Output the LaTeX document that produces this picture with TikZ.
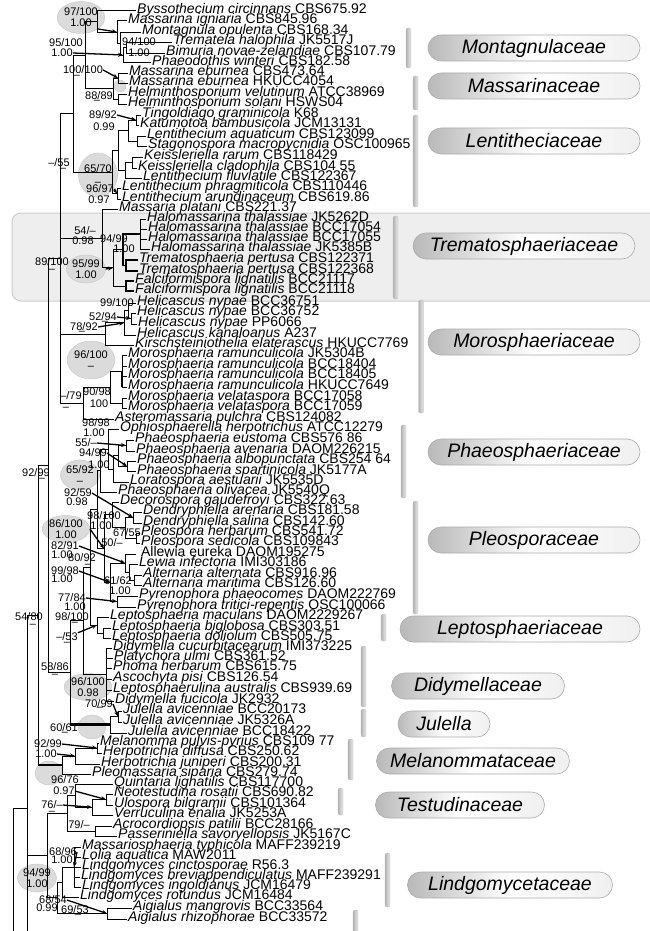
\documentclass[tikz,border=0pt]{standalone}
\usepackage{fontspec}
\setmainfont{Liberation Sans}
\usetikzlibrary{calc,arrows.meta,shapes.geometric}
\newcommand\tx[5]{\node[tx] (#1) at (#2,#3) {\textit{#4} #5};\coordinate (#1e) at ([xshift=-1.5pt]#1.mid west);}
\newcommand\nd[4]{\path let \p1=($(#3)!.5!(#4)$) in coordinate (#1) at (#2pt,\y1);}
\newcommand\clade[2]{\foreach \ch in {#2}{\draw[br] (#1) |- (\ch);}}
\newcommand\tclade[2]{\foreach \ch in {#2}{\draw[tkb] (#1) |- (\ch);}}
\newcommand\lb[4]{\node[sl] (#1) at (#2,#3) {#4};}
\tikzset{
 tx/.style={anchor=mid west,inner sep=0pt,font=\fontsize{14}{14}\selectfont},
 sl/.style={inner sep=0pt,font=\fontsize{11}{11}\selectfont},
 br/.style={line width=0.8pt},
 tkb/.style={line width=1.8pt},
 tk/.style={line width=2.6pt},
 arr/.style={line width=1.3pt,-{Stealth[length=5pt,width=4pt]}},
 bub/.style={ellipse,inner sep=0pt,fill=gray!28,draw=gray!45,line width=0.4pt,align=center,font=\fontsize{11}{11}\selectfont},
 fam/.style={rounded corners=13pt,draw=gray!65,line width=0.6pt,left color=gray!55,right color=gray!12,middle color=white,minimum height=26pt,inner sep=0pt,font=\fontsize{19.5}{19.5}\selectfont\itshape},
 bar/.style={rounded corners=2pt,left color=gray!60,right color=gray!15,draw=gray!50,line width=0.3pt},
}
\begin{document}
\begin{tikzpicture}[x=1pt,y=-1pt]
\fill[white] (0,0) rectangle (649,931);
\useasboundingbox (0,0) rectangle (649,931);
% Trematosphaeriaceae panel
\path[fill=gray!13,draw=gray!40,line width=1pt,rounded corners=9pt] (12,213) rectangle (660,301);
% bars
\path[bar] (406,28) rectangle (411,68);
\path[bar] (413,76) rectangle (418,110);
\path[bar] (413,115) rectangle (418,207);
\path[bar] (393,216) rectangle (398,299);
\path[bar] (418.5,300) rectangle (423.5,413);
\path[bar] (401,425) rectangle (406,498);
\path[bar] (413,501) rectangle (418,614);
\path[bar] (381,614) rectangle (386,641);
\path[bar] (361,646) rectangle (366,707);
\path[bar] (361,709) rectangle (366,737);
\path[bar] (348,739) rectangle (353,780);
\path[bar] (338,788) rectangle (343,815);
\path[bar] (385,853) rectangle (390,907);
\path[bar] (353,910) rectangle (358,935);
% family pills
\node[fam,minimum width=212pt] (f1) at (534,48) {Montagnulaceae};
\node[fam,minimum width=212pt] (f2) at (534,86) {Massarinaceae};
\node[fam,minimum width=212pt] (f3) at (534,141) {Lentitheciaceae};
\node[fam,minimum width=222pt] (f4) at (524,246) {Trematosphaeriaceae};
\node[fam,minimum width=212pt] (f5) at (534,342) {Morosphaeriaceae};
\node[fam,minimum width=212pt] (f6) at (534,452) {Phaeosphaeriaceae};
\node[fam,minimum width=212pt] (f7) at (534,540) {Pleosporaceae};
\node[fam,minimum width=240pt] (f8) at (520,629) {Leptosphaeriaceae};
\node[fam,minimum width=173pt] (f9) at (478,686) {Didymellaceae};
\node[fam,minimum width=92pt] (f10) at (444,724) {Julella};
\node[fam,minimum width=193pt] (f11) at (473,761) {Melanommataceae};
\node[fam,minimum width=169pt] (f12) at (460,805) {Testudinaceae};
\node[fam,minimum width=205pt] (f13) at (510,885) {Lindgomycetaceae};
% bubbles
\node[bub,minimum width=38pt,minimum height=32pt] (bub1) at (81,17.5) {97/100\\1.00};
\node[bub,minimum width=12pt,minimum height=12pt] (bub11) at (120,86) {};
\node[bub,minimum width=34pt,minimum height=44pt] (bub2) at (98,175) {65/70\\[2pt]\textendash};
\node[bub,minimum width=36pt,minimum height=28pt] (bub3) at (86,269) {95/99\\1.00};
\node[bub,minimum width=38pt,minimum height=38pt] (bub4) at (91,360) {96/100\\\textendash};
\node[bub,minimum width=34pt,minimum height=30pt] (bub5) at (80,475) {65/92\\\textendash};
\node[bub,minimum width=34pt,minimum height=26pt] (bub6) at (66,529) {86/100\\1.00};
\node[bub,minimum width=36pt,minimum height=26pt] (bub7) at (88,687) {96/100\\0.98};
\node[bub,minimum width=28pt,minimum height=24pt] (bub9) at (92,727) {};
\node[bub,minimum width=28pt,minimum height=24pt] (bub8) at (49,773) {};
\node[bub,minimum width=36pt,minimum height=28pt] (bub10) at (37,878) {94/99\\1.00};
% taxa
\tx{t1}{137}{10.7}{Byssothecium circinnans}{CBS675.92}
\tx{t2}{128}{20.7}{Massarina igniaria}{CBS845.96}
\tx{t3}{142}{32}{Montagnula opulenta}{CBS168.34}
\tx{t4}{173}{42}{Tremateia halophila}{JK5517J}
\tx{t5}{166}{53}{Bimuria novae-zelandiae}{CBS107.79}
\tx{t6}{152}{62.5}{Phaeodothis winteri}{CBS182.58}
\tx{t7}{129}{73}{Massarina eburnea}{CBS473.64}
\tx{t8}{129}{83}{Massarina eburnea}{HKUCC4054}
\tx{t9}{128}{94}{Helminthosporium velutinum}{ATCC38969}
\tx{t10}{128}{104}{Helminthosporium solani}{HSWS04}
\tx{t11}{142}{115}{Tingoldiago graminicola}{K68}
\tx{t12}{140}{125}{Katumotoa bambusicola}{JCM13131}
\tx{t13}{147}{136}{Lentithecium aquaticum}{CBS123099}
\tx{t14}{148}{146}{Stagonospora macropycnidia}{OSC100965}
\tx{t15}{144}{157}{Keissleriella rarum}{CBS118429}
\tx{t16}{138}{168}{Keissleriella cladophila}{CBS104 55}
\tx{t17}{143}{178}{Lentithecium fluviatile}{CBS122367}
\tx{t18}{122}{188}{Lentithecium phragmiticola}{CBS110446}
\tx{t19}{122}{199}{Lentithecium arundinaceum}{CBS619.86}
\tx{t20}{119}{209}{Massaria platani}{CBS221.37}
\tx{t21}{147}{219}{Halomassarina thalassiae}{JK5262D}
\tx{t22}{148}{229}{Halomassarina thalassiae}{BCC17054}
\tx{t23}{148}{239}{Halomassarina thalassiae}{BCC17055}
\tx{t24}{151}{249}{Halomassarina thalassiae}{JK5385B}
\tx{t25}{139}{260}{Trematosphaeria pertusa}{CBS122371}
\tx{t26}{139}{271}{Trematosphaeria pertusa}{CBS122368}
\tx{t27}{135}{281}{Falciformispora lignatilis}{BCC21117}
\tx{t28}{135}{291}{Falciformispora lignatilis}{BCC21118}
\tx{t29}{137}{303}{Helicascus nypae}{BCC36751}
\tx{t30}{137}{313}{Helicascus nypae}{BCC36752}
\tx{t31}{138}{324}{Helicascus nypae}{PP6066}
\tx{t32}{137}{335}{Helicascus kanaloanus}{A237}
\tx{t33}{135}{345}{Kirschsteiniothelia elaterascus}{HKUCC7769}
\tx{t34}{128}{355}{Morosphaeria ramunculicola}{JK5304B}
\tx{t35}{128}{366}{Morosphaeria ramunculicola}{BCC18404}
\tx{t36}{128}{376}{Morosphaeria ramunculicola}{BCC18405}
\tx{t37}{128}{387}{Morosphaeria ramunculicola}{HKUCC7649}
\tx{t38}{128}{398}{Morosphaeria velataspora}{BCC17058}
\tx{t39}{128}{408}{Morosphaeria velataspora}{BCC17059}
\tx{t40}{115}{419}{Asteromassaria pulchra}{CBS124082}
\tx{t41}{120}{429}{Ophiosphaerella herpotrichus}{ATCC12279}
\tx{t42}{135}{440}{Phaeosphaeria eustoma}{CBS576 86}
\tx{t43}{136}{451}{Phaeosphaeria avenaria}{DAOM226215}
\tx{t44}{137}{461}{Phaeosphaeria albopunctata}{CBS254 64}
\tx{t45}{137}{471.5}{Phaeosphaeria spartinicola}{JK5177A}
\tx{t46}{130}{482}{Loratospora aestuarii}{JK5535D}
\tx{t47}{118}{492}{Phaeosphaeria olivacea}{JK5540Q}
\tx{t48}{120}{502}{Decorospora gaudefroyi}{CBS322.63}
\tx{t49}{143}{512}{Dendryphiella arenaria}{CBS181.58}
\tx{t50}{143}{523}{Dendryphiella salina}{CBS142.60}
\tx{t51}{141}{533}{Pleospora herbarum}{CBS541.72}
\tx{t52}{141}{543}{Pleospora sedicola}{CBS109843}
\tx{t53}{137}{554}{}{Allewia eureka DAOM195275}
\tx{t54}{139}{564}{Lewia infectoria}{IMI303186}
\tx{t55}{143}{575}{Alternaria alternata}{CBS916.96}
\tx{t56}{143}{585}{Alternaria maritima}{CBS126.60}
\tx{t57}{139}{596}{Pyrenophora phaeocomes}{DAOM222769}
\tx{t58}{137}{607}{Pyrenophora tritici-repentis}{OSC100066}
\tx{t59}{110}{617}{Leptosphaeria maculans}{DAOM2229267}
\tx{t60}{112}{628}{Leptosphaeria biglobosa}{CBS303.51}
\tx{t61}{112}{638}{Leptosphaeria doliolum}{CBS505.75}
\tx{t62}{113}{648}{Didymella cucurbitacearum}{IMI373225}
\tx{t63}{114}{658}{Platychora ulmi}{CBS361.52}
\tx{t64}{113}{668}{Phoma herbarum}{CBS615.75}
\tx{t65}{113}{679}{Ascochyta pisi}{CBS126.54}
\tx{t66}{113}{690}{Leptosphaerulina australis}{CBS939.69}
\tx{t67}{115}{701}{Didymella fucicola}{JK2932}
\tx{t68}{123}{711}{Julella avicenniae}{BCC20173}
\tx{t69}{123}{722}{Julella avicenniae}{JK5326A}
\tx{t70}{128}{733}{Julella avicenniae}{BCC18422}
\tx{t71}{100}{743}{Melanomma pulvis-pyrius}{CBS109 77}
\tx{t72}{103}{753}{Herpotrichia diffusa}{CBS250.62}
\tx{t73}{101}{764}{Herpotrichia juniperi}{CBS200.31}
\tx{t74}{92}{774}{Pleomassaria siparia}{CBS279.74}
\tx{t75}{114}{784}{Quintaria lignatilis}{CBS117700}
\tx{t76}{114}{794}{Neotestudina rosatii}{CBS690.82}
\tx{t77}{114}{805}{Ulospora bilgramii}{CBS101364}
\tx{t78}{114}{815}{Verruculina enalia}{JK5253A}
\tx{t79}{113}{826}{Acrocordiopsis patilii}{BCC28166}
\tx{t80}{118}{836}{Passeriniella savoryellopsis}{JK5167C}
\tx{t81}{82}{847}{Massariosphaeria typhicola}{MAFF239219}
\tx{t82}{82}{857}{Lolia aquatica}{MAW2011}
\tx{t83}{82}{867}{Lindgomyces cinctosporae}{R56.3}
\tx{t84}{81}{877}{Lindgomyces breviappendiculatus}{MAFF239291}
\tx{t85}{82}{887}{Lindgomyces ingoldianus}{JCM16479}
\tx{t86}{80}{897}{Lindgomyces rotundus}{JCM16484}
\tx{t87}{133}{908}{Aigialus mangrovis}{BCC33564}
\tx{t88}{128}{919}{Aigialus rhizophorae}{BCC33572}
% internal nodes
\nd{m1}{126}{t4e}{t5e}
\nd{m2}{123}{m1}{t6e}
\nd{m3}{120}{t3e}{m2}
\nd{m4}{117}{t2e}{m3}
\nd{by}{97}{t1e}{m4}
\nd{ma1}{118}{t7e}{t8e}
\nd{ma2}{118}{t9e}{t10e}
\nd{ma3}{113}{ma1}{ma2}
\nd{b1}{85}{by}{ma3}
\nd{l1}{136}{t11e}{t12e}
\nd{l2}{137}{t13e}{t14e}
\nd{l3}{128}{l1}{l2}
\nd{l4}{132}{t15e}{t16e}
\nd{l5}{125}{l4}{t17e}
\nd{l7}{118}{l3}{l5}
\nd{l6}{117}{t18e}{t19e}
\nd{l8}{112}{l7}{l6}
\nd{b2}{73}{b1}{l8}
\nd{h1}{140}{t21e}{t24e}
\nd{tp}{126}{t25e}{t26e}
\nd{h2}{123}{h1}{tp}
\nd{fa}{126}{t27e}{t28e}
\nd{h3}{113}{h2}{fa}
\nd{tn}{102}{t20e}{h3}
\nd{he1}{131}{t30e}{t31e}
\nd{he2}{128}{t29e}{he1}
\nd{he3}{124}{he2}{t32e}
\nd{he4}{105}{he3}{t33e}
\nd{mo1}{122}{t34e}{t37e}
\nd{mo2}{122}{t38e}{t39e}
\nd{mo3}{110}{mo1}{mo2}
\nd{n83}{83}{mo3}{t40e}
\nd{n60}{60}{b2}{n83}
\nd{ph1}{126}{t42e}{t43e}
\nd{ph2}{127}{t44e}{t45e}
\nd{ph3}{118}{ph1}{ph2}
\nd{ph4}{113}{ph3}{t46e}
\nd{ph5}{108}{t41e}{ph4}
\nd{ph6}{100}{ph5}{t47e}
\nd{pl1}{133}{t49e}{t50e}
\nd{pl2}{136}{t51e}{t52e}
\nd{pl3}{125}{pl1}{pl2}
\nd{pl4}{112}{t48e}{pl3}
\nd{al}{134}{t55e}{t56e}
\nd{le}{129}{t54e}{al}
\nd{aw}{125}{t53e}{le}
\nd{py}{117}{t57e}{t58e}
\nd{pl7}{110}{aw}{py}
\nd{pl8}{104}{pl4}{pl7}
\nd{pa}{97}{ph6}{pl8}
\nd{lp1}{103}{t60e}{t61e}
\nd{lp2}{97}{t59e}{lp1}
\nd{fF}{90}{pa}{lp2}
\nd{di}{106}{t62e}{t67e}
\nd{gG}{83}{fF}{di}
\nd{ju1}{118}{t68e}{t69e}
\nd{ju2}{110}{ju1}{t70e}
\nd{cC}{70}{gG}{ju2}
\nd{n48}{48}{n60}{cC}
\nd{me1}{97}{t71e}{t72e}
\nd{me2}{75}{me1}{t73e}
\nd{me3}{62}{me2}{t74e}
\nd{n92}{38}{n48}{me3}
\nd{te1}{106}{t76e}{t77e}
\nd{te2}{92}{te1}{t78e}
\nd{te3}{75}{t75e}{te2}
\nd{ac}{95}{t79e}{t80e}
\nd{te4}{67}{te3}{ac}
\nd{li1}{74}{t81e}{t85e}
\nd{li2}{62}{li1}{t86e}
\nd{ai}{107}{t87e}{t88e}
\nd{li3}{57}{li2}{ai}
\nd{hH}{47}{te4}{li3}
\nd{n54}{27}{n92}{hH}
\coordinate (r27) at (27,931);
\coordinate (root) at (13,931);
\coordinate (j54) at (27,808);
% branches
\clade{m1}{t4e,t5e}
\clade{m2}{m1,t6e}
\clade{m3}{t3e,m2}
\clade{m4}{t2e,m3}
\clade{by}{t1e,m4}
\clade{ma1}{t7e,t8e}
\clade{ma2}{t9e,t10e}
\clade{ma3}{ma1,ma2}
\clade{b1}{by,ma3}
\clade{l1}{t11e,t12e}
\clade{l2}{t13e,t14e}
\clade{l3}{l1,l2}
\clade{l4}{t15e,t16e}
\clade{l5}{l4,t17e}
\clade{l7}{l3,l5}
\clade{l6}{t18e,t19e}
\clade{l8}{l7,l6}
\clade{b2}{b1,l8}
\clade{h1}{t21e,t22e,t23e,t24e}
\tclade{tp}{t25e,t26e}
\tclade{h2}{h1,tp}
\tclade{fa}{t27e,t28e}
\clade{h3}{h2,fa}
\clade{tn}{t20e,h3}
\clade{he1}{t30e,t31e}
\clade{he2}{t29e,he1}
\clade{he3}{he2,t32e}
\clade{he4}{he3,t33e}
\clade{mo1}{t34e,t35e,t36e,t37e}
\draw[tkb] (mo1) -- (mo1 |- t37e);
\clade{mo2}{t38e,t39e}
\clade{mo3}{mo1,mo2}
\clade{n83}{mo3,t40e}
\clade{n60}{b2,tn,he4,n83}
\clade{ph1}{t42e,t43e}
\clade{ph2}{t44e,t45e}
\clade{ph3}{ph1,ph2}
\clade{ph4}{ph3,t46e}
\clade{ph5}{t41e,ph4}
\clade{ph6}{ph5,t47e}
\clade{pl1}{t49e,t50e}
\clade{pl2}{t51e,t52e}
\clade{pl3}{pl1,pl2}
\clade{pl4}{t48e,pl3}
\clade{al}{t55e,t56e}
\clade{le}{t54e,al}
\clade{aw}{t53e,le}
\clade{py}{t57e,t58e}
\clade{pl7}{aw,py}
\clade{pl8}{pl4,pl7}
\clade{pa}{ph6,pl8}
\clade{lp1}{t60e,t61e}
\clade{lp2}{t59e,lp1}
\clade{fF}{pa,lp2}
\clade{di}{t62e,t63e,t64e,t65e,t66e,t67e}
\clade{gG}{fF,di}
\clade{ju1}{t68e,t69e}
\clade{ju2}{ju1,t70e}
\clade{cC}{gG,ju2}
\draw[tk] (cC |- ju2) -- (ju2);
\clade{n48}{n60,cC}
\clade{me1}{t71e,t72e}
\clade{me2}{me1,t73e}
\clade{me3}{me2,t74e}
\clade{n92}{n48,me3}
\draw[tk] (n92 |- me3) -- (me3);
\clade{te1}{t76e,t77e}
\clade{te2}{te1,t78e}
\clade{te3}{t75e,te2}
\clade{ac}{t79e,t80e}
\clade{te4}{te3,ac}
\clade{li1}{t81e,t82e,t83e,t84e,t85e}
\clade{li2}{li1,t86e}
\clade{ai}{t87e,t88e}
\clade{li3}{li2,ai}
\clade{hH}{te4,li3}
\clade{n54}{n92,hH}
\draw[br] (n54) -- (r27);
\draw[br] (root) |- (j54);
% support labels
\lb{s2a}{66}{43}{95/100}\lb{s2b}{62}{53}{1.00}
\lb{s3a}{83}{70}{100/100}\lb{s3b}{77}{77}{\textendash}
\lb{s4a}{99}{96}{88/89}\lb{s4b}{97}{102}{\textendash}
\lb{s4c}{139}{42}{94/100}\lb{s4d}{139}{53}{1.00}
\lb{s5a}{103}{115}{89/92}\lb{s5b}{104}{127}{0.99}
\lb{s7a}{100}{189}{96/97}\lb{s7b}{99}{200}{0.97}
\lb{s8a}{59}{163}{\textendash/55}\lb{s8b}{63}{170}{\textendash}
\lb{s9a}{85}{231}{54/\textendash}\lb{s9b}{83}{241}{0.98}
\lb{s10a}{114}{239}{94/99}\lb{s10b}{124}{249}{1.00}
\lb{s12a}{52}{262}{89/100}\lb{s12b}{52}{271}{\textendash}
\lb{s13}{117}{303}{99/100}
\lb{s14a}{103}{317}{52/94}\lb{s14b}{105}{323}{\textendash}
\lb{s15a}{84}{327}{78/92}\lb{s15b}{82}{333}{\textendash}
\lb{s17a}{71}{396}{\textendash/79}\lb{s17b}{66}{409}{\textendash}
\lb{s18a}{97}{392}{90/98}\lb{s18b}{99}{404}{100}
\lb{s19a}{96}{423}{98/98}\lb{s19b}{94}{433}{1.00}
\lb{s20}{86}{443}{55/\textendash}
\lb{s21a}{93}{453}{94/99}\lb{s21b}{99}{465}{1.00}
\lb{s22a}{36}{473}{92/99}\lb{s22b}{42}{480}{\textendash}
\lb{s24a}{78}{493}{92/59}\lb{s24b}{77}{502}{0.98}
\lb{s25a}{104}{516}{98/100}\lb{s25b}{101}{526}{1.00}
\lb{s27}{127}{533}{67/55}
\lb{s28}{112}{543}{50/\textendash}
\lb{s29a}{65}{546}{82/91}\lb{s29b}{62}{555}{1.00}
\lb{s30a}{82}{558}{80/92}\lb{s30b}{88}{566}{\textendash}
\lb{s31a}{65}{571}{99/98}\lb{s31b}{62}{579}{1.00}
\lb{s32a}{118}{581}{61/62}\lb{s32b}{120}{591}{1.00}
\lb{s33a}{72}{598}{77/84}\lb{s33b}{75}{607}{1.00}
\lb{s34a}{72}{617}{98/100}\lb{s34b}{75}{624}{\textendash}
\lb{s35a}{29}{617}{54/80}\lb{s35b}{33}{626}{\textendash}
\lb{s36a}{67}{637}{\textendash/53}\lb{s36b}{67}{644}{\textendash}
\lb{s37a}{55}{667}{58/86}\lb{s37b}{55}{676}{\textendash}
\lb{s39a}{99}{704}{70/99}\lb{s39b}{100}{709}{\textendash}
\lb{s40a}{64}{728}{60/61}\lb{s40b}{65}{734}{\textendash}
\lb{s41a}{48}{744}{92/99}\lb{s41b}{46}{754}{1.00}
\lb{s43a}{65}{780}{96/76}\lb{s43b}{64}{791}{0.97}
\lb{s44a}{52}{805}{76/\textendash}\lb{s44b}{52}{813}{\textendash}
\lb{s45}{79}{825}{79/\textendash}
\lb{s46a}{63}{852}{68/96}\lb{s46b}{62}{860}{1.00}
\lb{s48a}{53}{900}{68/54}\lb{s48b}{47}{908}{0.99}
\lb{s49a}{75}{910}{69/53}\lb{s49b}{78}{916}{\textendash}
% arrows from labels to nodes
\draw[arr] (bub1.south east) -- (m4);
\draw[arr] (s2b.east) -- (m2);
\draw[arr] (s3a.east) -- (ma1);
\draw[arr] (s5a.east) -- (l1);
\draw[arr] (s7a.east) -- (l6);
\draw[arr] (bub3.east) -- (h3);
\draw[arr] (s14a.east) -- (he1);
\draw[arr] (s15a.east) -- (he3);
\draw[arr] (s20.east) -- (ph1);
\draw[arr] (s21a.east) -- (ph2);
\draw[arr] (s24a.east) -- (pl1);
\draw[arr] (bub6.east) -- (pl8);
\draw[arr] (s29a.east) -- (aw);
\draw[arr] (s31a.east) -- (pl7);
\draw[arr] (s33a.east) -- (py);
\draw[arr] (s36a.north east) -- (lp2);
\draw[arr] (s39a.east) -- (ju1);
\draw[arr] (s41a.east) -- (me1);
\draw[arr] (s41b.east) -- (me2);
\draw[arr] (s43b.east) -- (te1);
\draw[arr] (s44a.east) -- (te2);
\draw[arr] (s46a.east) -- (li1);
\draw[arr] (s48a.east) -- (ai);
\end{tikzpicture}
\end{document}
